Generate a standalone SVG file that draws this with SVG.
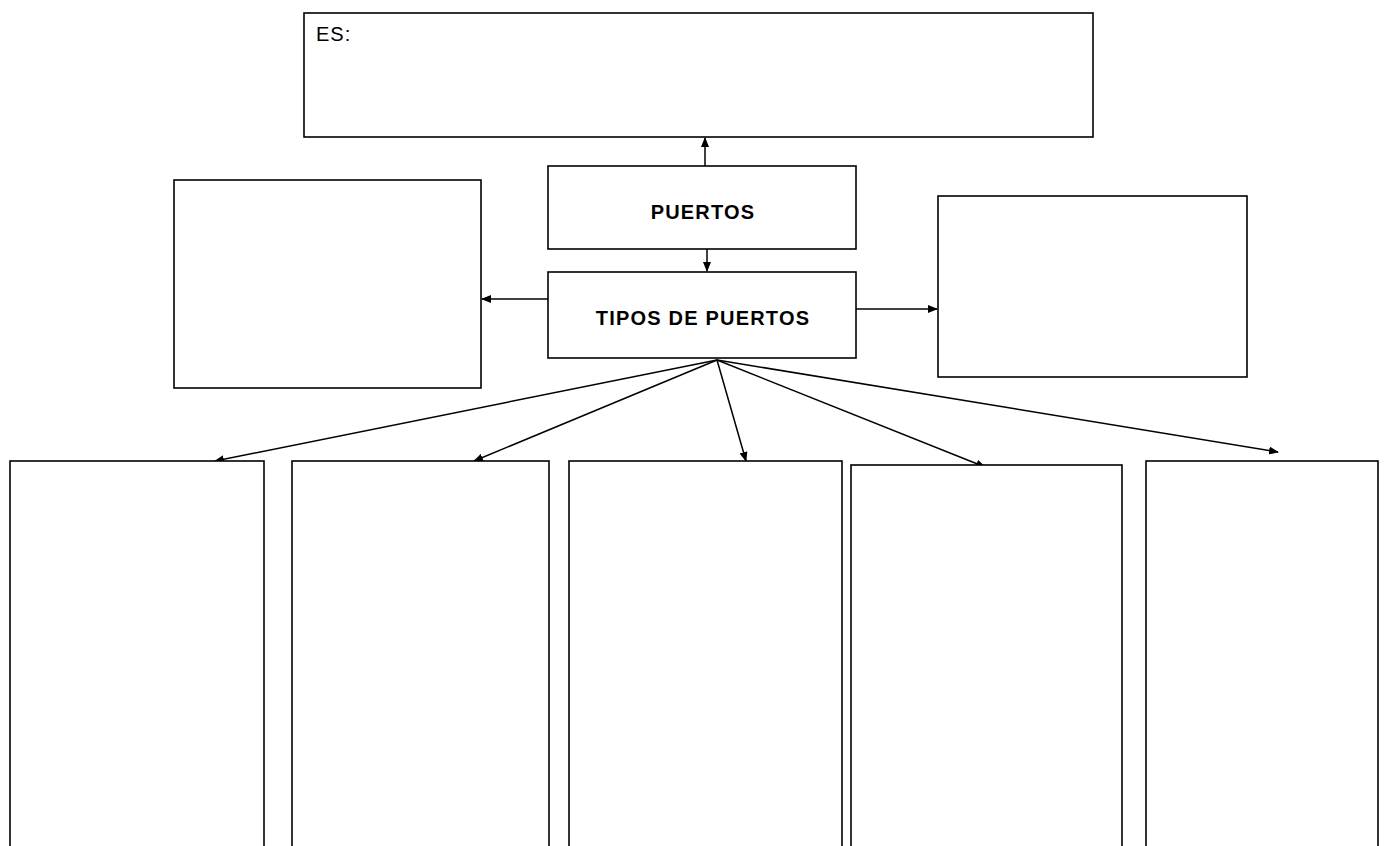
<svg xmlns="http://www.w3.org/2000/svg" width="1388" height="846" viewBox="0 0 1388 846">
<style>
.box{fill:#fff;stroke:#000;stroke-width:1.6}
.lbl{font-family:"Liberation Sans",Arial,sans-serif;font-size:20px;font-weight:bold;letter-spacing:1.2px;fill:#000;text-anchor:middle}
.txt{font-family:"Liberation Sans",Arial,sans-serif;font-size:20px;letter-spacing:1px;fill:#000}
.con{stroke:#000;stroke-width:1.5;fill:none;marker-end:url(#ah)}
</style>
<defs>
<marker id="ah" markerWidth="10" markerHeight="8" refX="9" refY="4" orient="auto" markerUnits="userSpaceOnUse">
<path d="M0,0 L10,4 L0,8 Z" fill="#000"/>
</marker>
</defs>
<rect width="1388" height="846" fill="#fff"/>
<g id="connectors">
<line class="con" x1="705" y1="166" x2="705" y2="138"/>
<line class="con" x1="707" y1="249" x2="707" y2="271"/>
<line class="con" x1="548" y1="299" x2="482" y2="299"/>
<line class="con" x1="856" y1="309" x2="937" y2="309"/>
<line class="con" x1="717" y1="360" x2="215" y2="461"/>
<line class="con" x1="717" y1="360" x2="474" y2="461"/>
<line class="con" x1="717" y1="360" x2="746" y2="461"/>
<line class="con" x1="717" y1="360" x2="985" y2="467"/>
<line class="con" x1="717" y1="360" x2="1278" y2="452"/>
</g>
<g id="es"><rect class="box" x="304" y="13" width="789" height="124"/><text class="txt" x="316" y="41">ES:</text></g>
<g id="puertos"><rect class="box" x="548" y="166" width="308" height="83"/><text class="lbl" x="703" y="219">PUERTOS</text></g>
<g id="tipos"><rect class="box" x="548" y="272" width="308" height="86"/><text class="lbl" x="703" y="325">TIPOS DE PUERTOS</text></g>
<g id="left"><rect class="box" x="174" y="180" width="307" height="208"/></g>
<g id="right"><rect class="box" x="938" y="196" width="309" height="181"/></g>
<g id="b1"><rect class="box" x="10" y="461" width="254" height="400"/></g>
<g id="b2"><rect class="box" x="292" y="461" width="257" height="400"/></g>
<g id="b3"><rect class="box" x="569" y="461" width="273" height="400"/></g>
<g id="b4"><rect class="box" x="851" y="465" width="271" height="400"/></g>
<g id="b5"><rect class="box" x="1146" y="461" width="232" height="400"/></g>
</svg>
